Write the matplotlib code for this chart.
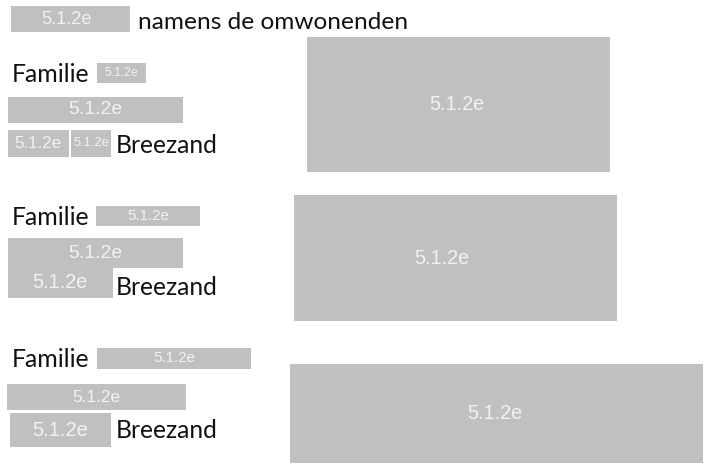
import matplotlib
matplotlib.use("Agg")
import matplotlib.pyplot as plt
from matplotlib.patches import Rectangle

# ---- content ----
redaction = "5.1.2e"
heading = "namens de omwonenden"
family_word = "Familie"
street_word = "Breezand"
groups = ["groep 1", "groep 2", "groep 3"]

# redaction boxes: (x0, y0, x1, y1, text_cx, text_width_px)
boxes = [
    (11, 6, 130, 32, 67, 51),            # heading box
    (307, 37, 610, 172, 457, 55),        # right box 1
    (294, 195, 617, 321, 442, 55),       # right box 2
    (290, 364, 703, 463, 495, 55),       # right box 3
    # group 1
    (97, 63, 146, 83, 121, 34),
    (8, 97, 183, 123, 95, 54),
    (8, 130, 69, 157, 38, 47),
    (71, 130, 111, 157, 91, 36),
    # group 2
    (96, 206, 200, 226, 148, 42),
    (8, 238, 183, 268, 95, 54),
    (8, 268, 113, 298, 60, 55),
    # group 3
    (97, 348, 251, 369, 174, 42),
    (7, 384, 186, 410, 96, 48),
    (10, 413, 111, 447, 60, 56),
]

# black words: (text, x_left, baseline, width_px)
words = [
    (heading, 138, 29, 270),
    (family_word, 12, 82, 78),
    (street_word, 116, 153, 102),
    (family_word, 12, 225, 78),
    (street_word, 116, 295, 102),
    (family_word, 12, 367, 78),
    (street_word, 116, 438, 102),
]

GRAY = "#c0c0c0"
LIGHT = "#f2f2f2"

fig = plt.figure(figsize=(7.04, 4.72), dpi=100)
ax = fig.add_axes([0, 0, 1, 1])
ax.set_xlim(0, 704)
ax.set_ylim(472, 0)
ax.axis("off")
fig.canvas.draw()
renderer = fig.canvas.get_renderer()


def fit(t, width):
    bb = t.get_window_extent(renderer=renderer)
    fs = t.get_fontsize()
    t.set_fontsize(fs * width / bb.width)


for x0, y0, x1, y1, cx, tw in boxes:
    ax.add_patch(Rectangle((x0, y0), x1 - x0, y1 - y0, facecolor=GRAY,
                           edgecolor="none"))
    t = ax.text(cx, (y0 + y1) / 2, redaction, ha="center", va="center",
                color=LIGHT, family="Liberation Sans", fontsize=10)
    fit(t, tw)

for s, x, yb, w in words:
    t = ax.text(x, yb, s, ha="left", va="baseline", color="#111111",
                family="Lato", fontsize=15)
    fit(t, w)

fig.savefig("out.png", dpi=100)
